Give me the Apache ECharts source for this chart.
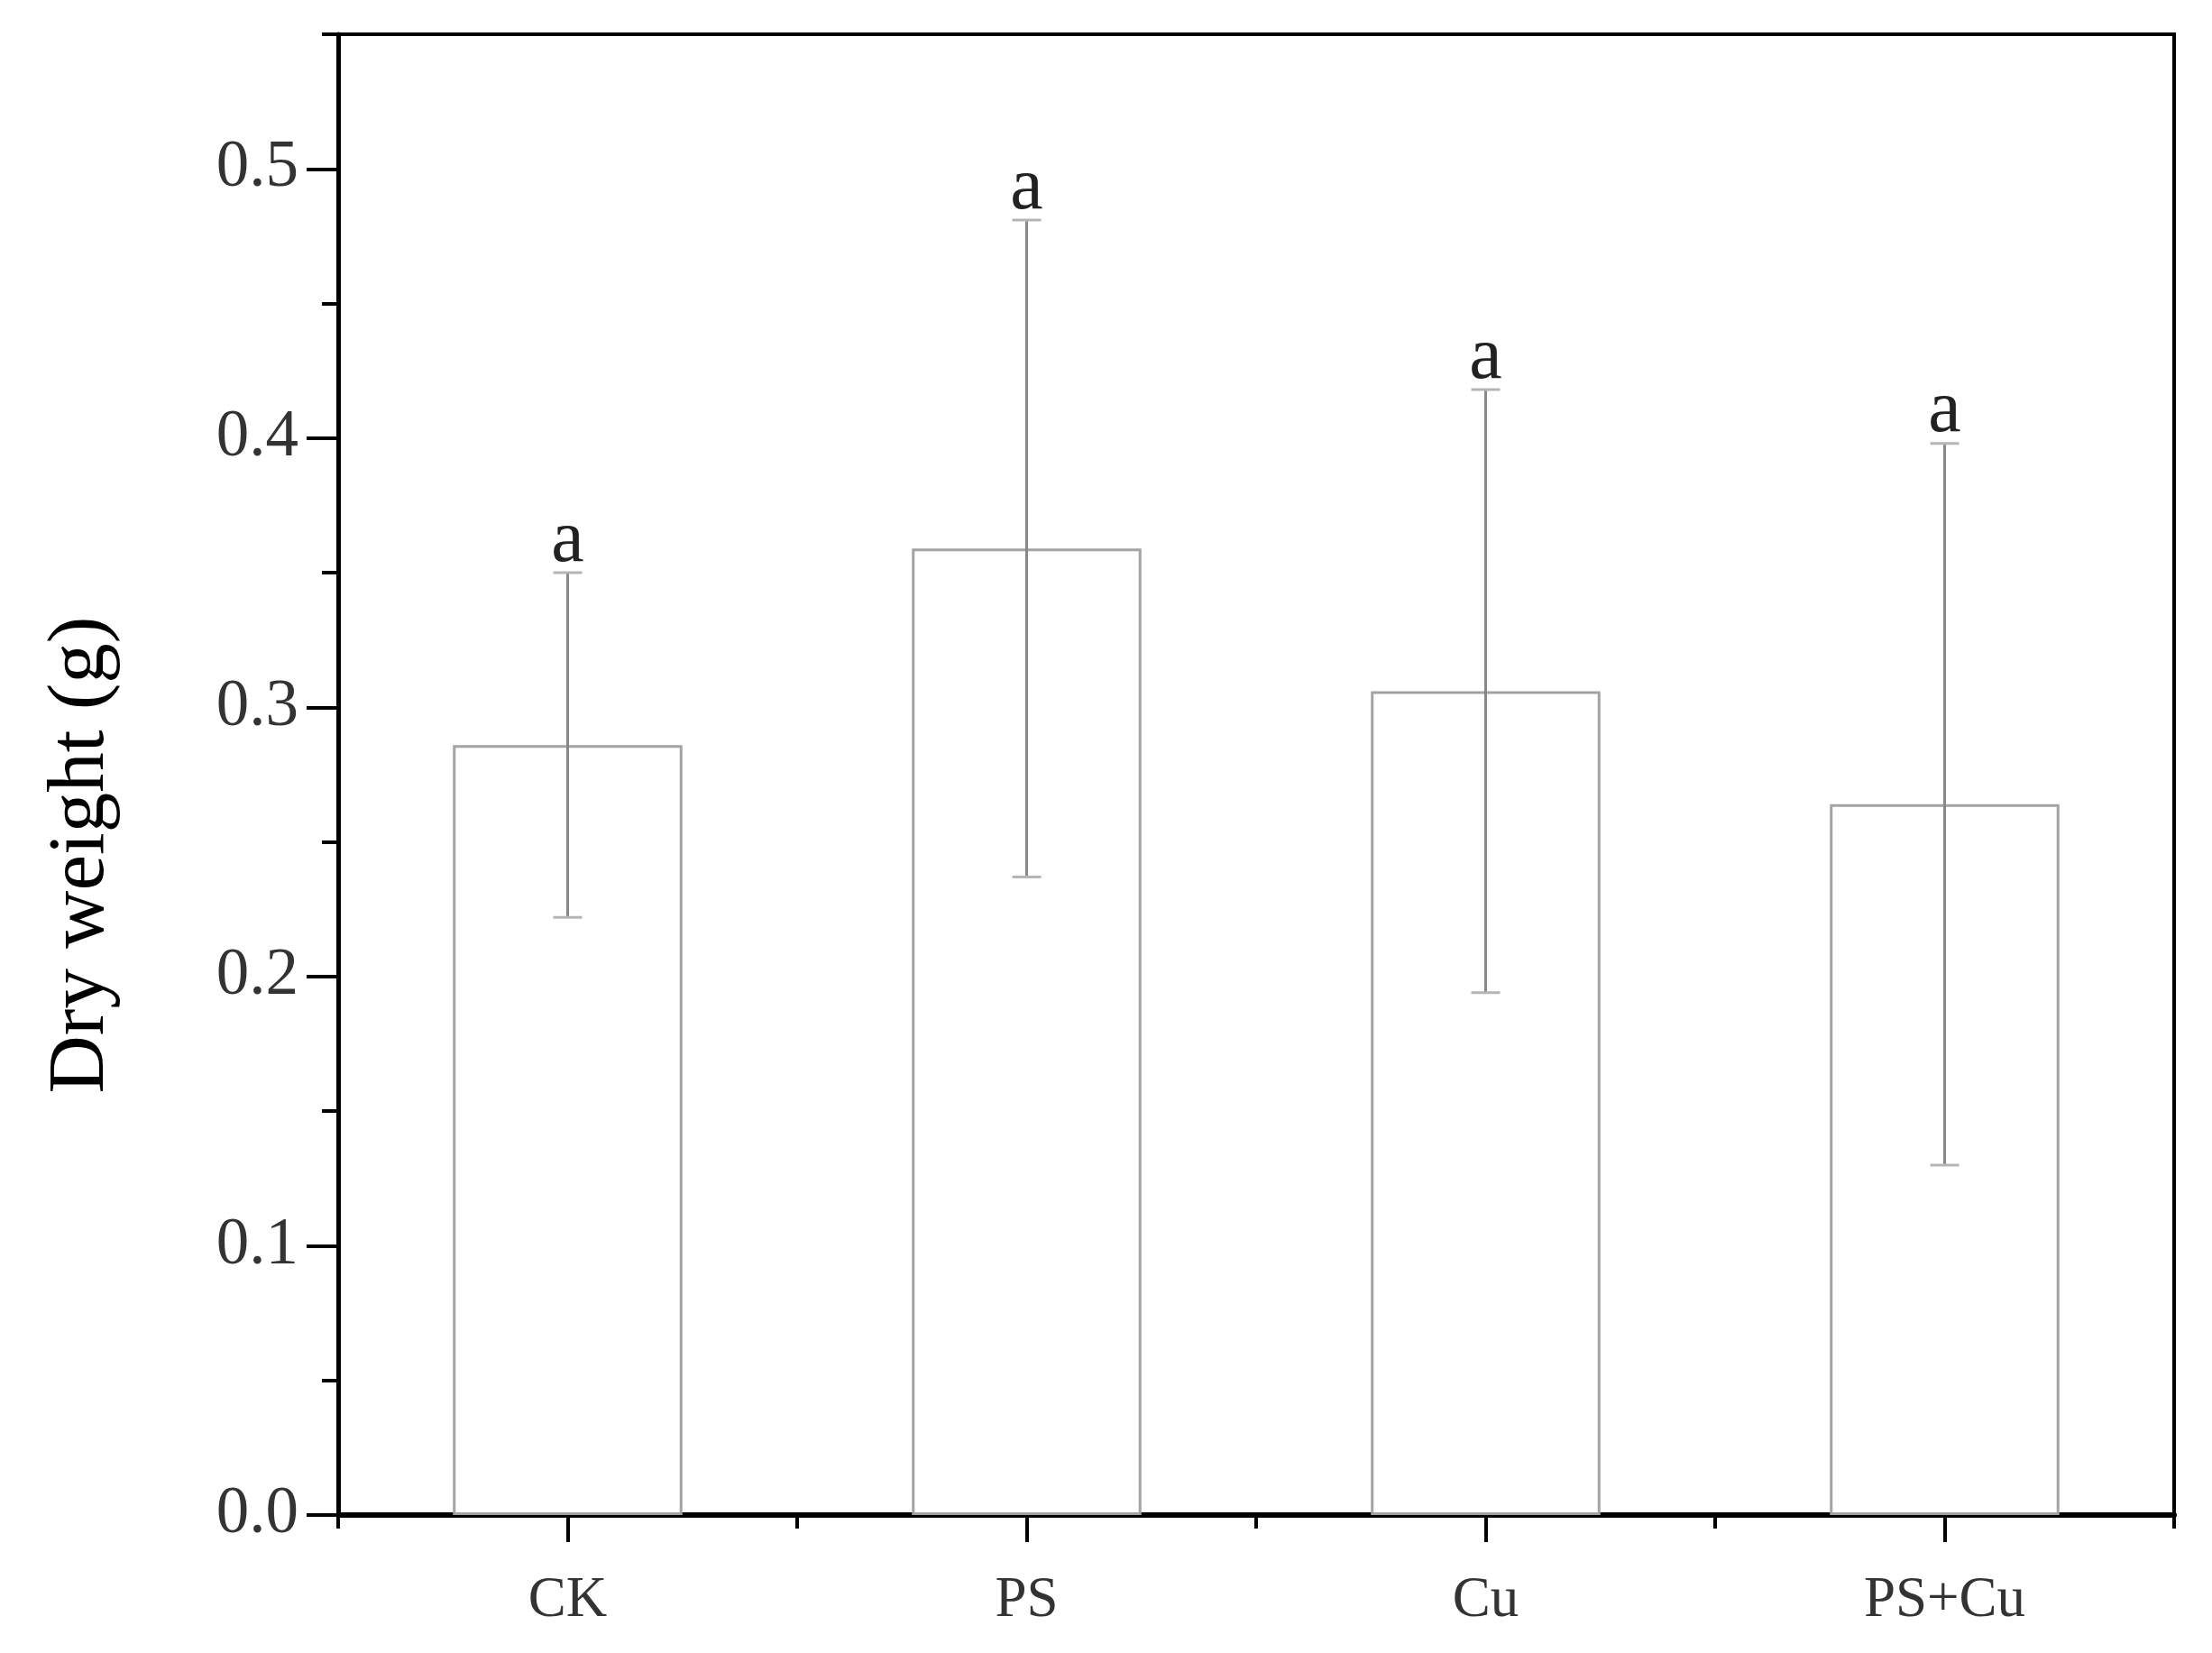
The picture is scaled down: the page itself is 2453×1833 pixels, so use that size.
<!DOCTYPE html>
<html>
<head>
<meta charset="utf-8">
<script src="https://cdn.jsdelivr.net/npm/echarts@6/dist/echarts.min.js"></script>
<style>
html,body{margin:0;padding:0;background:#fff;}
#chart{width:2453px;height:1833px;}
</style>
</head>
<body>
<div id="chart"></div>
<script>
// ---- data ----
const categories = ['CK', 'PS', 'Cu', 'PS+Cu'];
const means = [0.286, 0.359, 0.306, 0.264];
const errors = [0.064, 0.122, 0.112, 0.134];
const letters = ['a', 'a', 'a', 'a'];
const yMajorTicks = [0, 0.1, 0.2, 0.3, 0.4, 0.5];
const yMinorTicks = [0.05, 0.15, 0.25, 0.35, 0.45, 0.55];
const yMax = 0.55;

const serif = '"Liberation Serif", "Times New Roman", serif';

const errData = means.map((m, i) => [i, m, errors[i]]);

const chart = echarts.init(document.getElementById('chart'));
chart.setOption({
  backgroundColor: '#ffffff',
  animation: false,
  grid: {
    left: 375, right: 42, top: 38, bottom: 153,
    show: true, borderColor: '#000', borderWidth: 4, backgroundColor: 'transparent'
  },
  xAxis: [
    {
      type: 'category',
      data: categories,
      position: 'bottom',
      axisLine: { show: true, lineStyle: { color: '#000', width: 6 } },
      axisTick: { show: true, alignWithLabel: true, length: 30, lineStyle: { color: '#000', width: 4 } },
      axisLabel: { margin: 64, fontFamily: serif, fontSize: 63, color: '#333' },
      splitLine: { show: false }
    },
    {
      type: 'category',
      data: categories,
      position: 'bottom',
      axisLine: { show: false },
      axisTick: { show: true, alignWithLabel: false, length: 15, lineStyle: { color: '#000', width: 4 } },
      axisLabel: { show: false },
      splitLine: { show: false }
    }
  ],
  yAxis: [
    {
      type: 'value',
      min: 0, max: yMax, interval: 0.1,
      position: 'left',
      name: 'Dry weight (g)',
      nameLocation: 'middle',
      nameGap: 240,
      nameTextStyle: { fontFamily: serif, fontSize: 89, color: '#000', padding: [0, 178, 0, 0] },
      axisLine: { show: true, lineStyle: { color: '#000', width: 5 } },
      axisTick: { show: true, length: 35, customValues: yMajorTicks, lineStyle: { color: '#000', width: 4 } },
      axisLabel: {
        margin: 44, fontFamily: serif, fontSize: 73, color: '#333',
        customValues: yMajorTicks,
        formatter: v => (yMajorTicks.some(t => Math.abs(t - v) < 1e-9) ? v.toFixed(1) : '')
      },
      splitLine: { show: false }
    },
    {
      type: 'value',
      min: 0, max: yMax, interval: 0.05,
      position: 'left',
      axisLine: { show: false },
      axisTick: { show: true, length: 18, customValues: yMinorTicks, lineStyle: { color: '#000', width: 4 } },
      axisLabel: { show: false },
      splitLine: { show: false }
    }
  ],
  series: [
    {
      type: 'bar',
      data: means,
      xAxisIndex: 0, yAxisIndex: 0,
      barWidth: '50%',
      itemStyle: { color: '#ffffff', borderColor: '#a3a3a3', borderWidth: 3 },
      z: 2
    },
    {
      type: 'custom',
      data: errData,
      xAxisIndex: 0, yAxisIndex: 0,
      encode: { x: 0, y: 1 },
      z: 3,
      renderItem: function (params, api) {
        const i = api.value(0);
        const m = api.value(1);
        const e = api.value(2);
        const hi = api.coord([i, m + e]);
        const lo = api.coord([i, m - e]);
        const cw = 16;
        return {
          type: 'group',
          children: [
            { type: 'line', shape: { x1: hi[0], y1: hi[1], x2: lo[0], y2: lo[1] }, style: { stroke: '#888888', lineWidth: 3 } },
            { type: 'line', shape: { x1: hi[0] - cw, y1: hi[1], x2: hi[0] + cw, y2: hi[1] }, style: { stroke: '#b5b5b5', lineWidth: 3 } },
            { type: 'line', shape: { x1: lo[0] - cw, y1: lo[1], x2: lo[0] + cw, y2: lo[1] }, style: { stroke: '#b5b5b5', lineWidth: 3 } },
            {
              type: 'text', x: hi[0], y: hi[1] + 6,
              style: { text: letters[i], fontFamily: serif, fontSize: 82, fill: '#222', align: 'center', verticalAlign: 'bottom' }
            }
          ]
        };
      }
    }
  ]
});
</script>
</body>
</html>
